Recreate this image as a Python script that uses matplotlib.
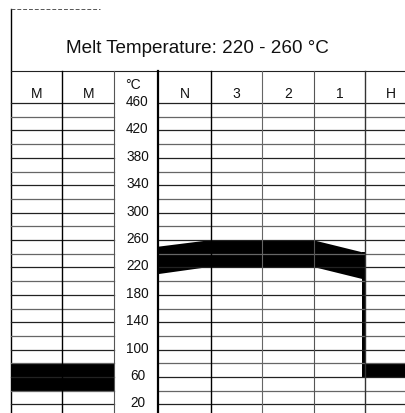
import matplotlib
matplotlib.use("Agg")
import matplotlib.pyplot as plt
import numpy as np

# ---- data ----
title = "Melt Temperature: 220 - 260 °C"
columns = ["M", "M", "°C", "N", "3", "2", "1", "H"]
tick_values = [460, 420, 380, 340, 300, 260, 220, 180, 140, 100, 60, 20]
grid_temps = list(range(20, 461, 20))
# melt temperature band across barrel zones (N -> 1)
profile_low = [211, 221, 221, 203]
profile_high = [251, 260, 260, 242]
# hopper (H) band and mould (M) band
hopper_low, hopper_high = 60, 80
mould_low, mould_high = 40, 80

# ---- layout (pixel-based helpers) ----
W, H = 406, 414
def px2T(y):
    return 260 + (241 - y) / 0.685

fig = plt.figure(figsize=(W / 100, H / 100), dpi=100)
ax = fig.add_axes([0, 0, 1, 1])
ax.set_xlim(0, W)
ax.set_ylim(px2T(H), px2T(0))
ax.axis("off")
font = "Liberation Sans"

bounds = [11, 62.5, 114, 158, 211, 262.5, 314, 365.5, 417]
top_hdr = px2T(72)
bottom = px2T(H)

# title box
ax.plot([11, 11], [px2T(10), bottom], color="black", lw=1.0)
ax.plot([11, 100], [px2T(10), px2T(10)], color="#555", lw=0.7, ls=(0, (4, 2)))
ax.plot([11, W], [top_hdr, top_hdr], color="#222", lw=0.8)
ax.text(197, px2T(48), title, ha="center", va="center", fontsize=13.6,
        family=font, color="#111")

# horizontal grid
for i, t in enumerate(grid_temps):
    c = "#222" if i % 2 == 0 else "#666"
    ax.plot([bounds[0], bounds[2]], [t, t], color=c, lw=0.9)
    ax.plot([bounds[3], W], [t, t], color=c, lw=0.9)

# vertical lines
vcols = ["black", "black", "#555", "black", "black", "#666", "#555", "#333"]
vlw = [1.0, 1.0, 0.8, 1.6, 1.0, 0.8, 0.8, 1.0]
for x, c, lw in zip(bounds[1:-1], vcols[1:], vlw[1:]):
    ax.plot([x, x], [top_hdr, bottom], color=c, lw=lw)

# header labels
for i, lab in enumerate(columns):
    xc = (bounds[i] + bounds[i + 1]) / 2
    if lab == "°C":
        ax.text(xc - 3, px2T(85), lab, ha="center", va="center", fontsize=10,
                family=font, color="#111")
    else:
        ax.text(xc, px2T(94), lab, ha="center", va="center", fontsize=10,
                family=font, color="#111")

# temperature tick labels
for t in tick_values:
    ax.text(137.5, t + 3, str(t), ha="center", va="center", fontsize=9.8,
            family=font, color="#111")

# melt band
prof_x = [bounds[3], 207, bounds[6], 364]
ax.fill_between(prof_x, profile_low, profile_high, color="black", lw=0)
# drop to hopper
ax.fill_between([362, 366], [hopper_low, hopper_low],
                [profile_high[-1], profile_high[-1]], color="black", lw=0)
ax.fill_between([362, W], [hopper_low, hopper_low], [hopper_high, hopper_high],
                color="black", lw=0)
# mould band
ax.fill_between([bounds[0], bounds[2]], [mould_low, mould_low],
                [mould_high, mould_high], color="black", lw=0)

fig.savefig("out.png", dpi=100)
